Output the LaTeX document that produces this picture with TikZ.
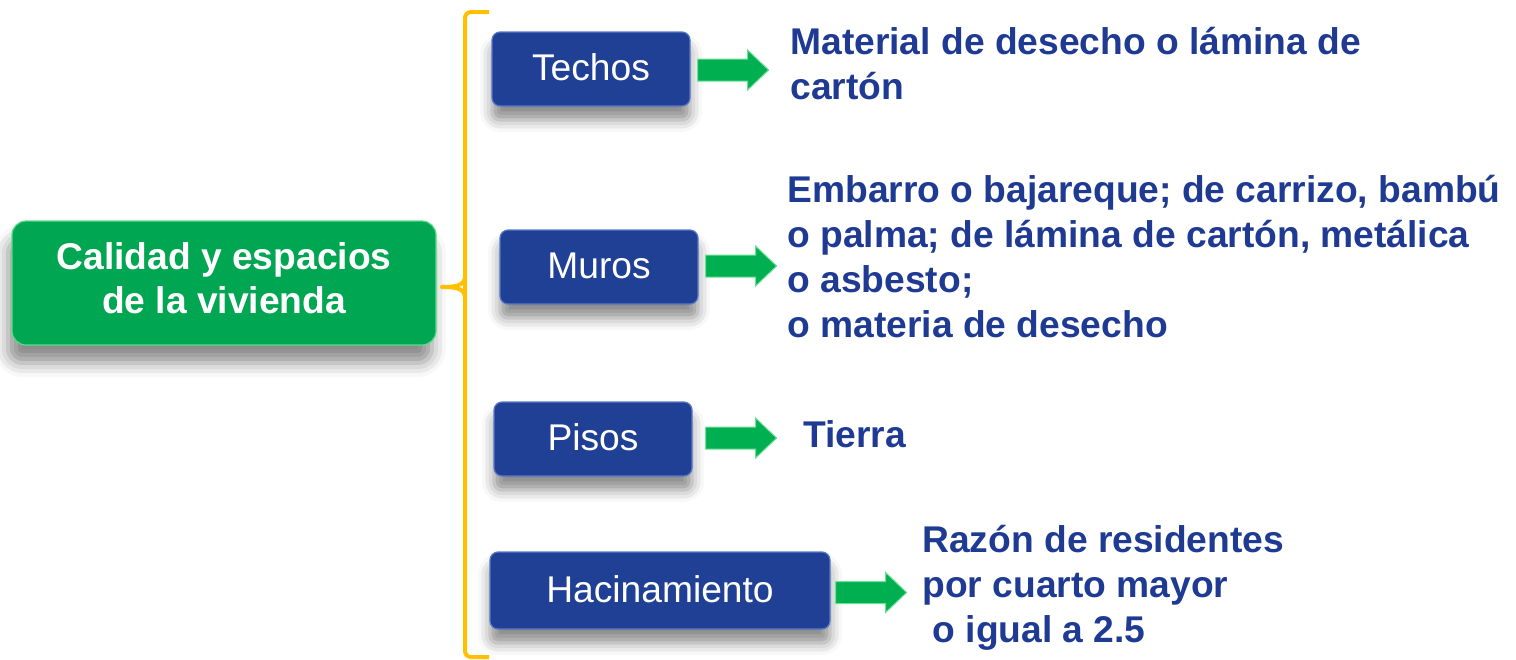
\documentclass[tikz,border=0pt]{standalone}
\usepackage{fontspec}
\setmainfont{Liberation Sans}
\usetikzlibrary{calc,shadows.blur}
\definecolor{boxblue}{RGB}{31,64,148}
\definecolor{boxblueedge}{RGB}{90,120,200}
\definecolor{txtblue}{RGB}{31,58,147}
\definecolor{mainGreen}{RGB}{0,166,81}
\definecolor{mainGreenEdge}{RGB}{90,220,140}
\definecolor{arrGreen}{RGB}{0,176,80}
\definecolor{arrGreenEdge}{RGB}{110,225,150}
\definecolor{braceOrange}{RGB}{255,192,0}
\tikzset{
  bluebox/.style={rectangle, rounded corners=4pt, fill=boxblue, draw=boxblueedge, line width=0.6pt,
    text=white, font=\fontsize{18.6}{22.5}\selectfont, inner sep=0pt, text height=13.4pt, text depth=1.8pt,
    blur shadow={shadow xshift=0pt, shadow yshift=-7pt, shadow blur radius=6pt, shadow opacity=45}},
  greenbox/.style={rectangle, rounded corners=7pt, fill=mainGreen, draw=mainGreenEdge, line width=0.6pt,
    text=white, font=\bfseries\fontsize{18.6}{21.8}\selectfont, align=center, inner sep=0pt,
    minimum width=212pt, minimum height=62pt,
    blur shadow={shadow xshift=-2pt, shadow yshift=-9pt, shadow blur radius=7pt, shadow opacity=45}},
  desc/.style={text=txtblue, font=\bfseries\fontsize{18.6}{22.5}\selectfont, align=left, inner sep=0pt, anchor=west},
  bracket/.style={draw=braceOrange, line width=2pt, rounded corners=3pt},
  greenarrow/.style={fill=arrGreen, draw=arrGreenEdge, line width=0.5pt}
}
\newcommand{\greenarr}[3]{%
  \draw[greenarrow] ($(#1.east)+(#2,#3-11)$) -- ++(50,0) -- ++(0,-9) -- ++(21,20) -- ++(-21,20) -- ++(0,-9) -- ++(-50,0) -- cycle;}
\begin{document}
\begin{tikzpicture}[x=0.5pt,y=-0.5pt]
\useasboundingbox (0,0) rectangle (1516,659);
% main node
\node[greenbox] (main) at (224,283) {Calidad y espacios\\de la vivienda\rule[-5pt]{0pt}{5pt}};
% bracket
\coordinate (btop) at (489,12);
\coordinate (bbot) at (489,657);
\coordinate (bmid) at (442,287);
\draw[bracket] (btop) -- (465,12) -- (465,657) -- (bbot);
\draw[braceOrange, line width=2pt, line cap=round] (bmid) .. controls (458,287) and (463,285) .. (465,278);
\draw[braceOrange, line width=2pt, line cap=round] (bmid) .. controls (458,287) and (463,289) .. (465,296);
% category boxes
\node[bluebox, minimum width=99pt, minimum height=37pt] (techos) at (591,69) {Techos};
\node[bluebox, minimum width=99pt, minimum height=37pt] (muros) at (599,267) {Muros};
\node[bluebox, minimum width=99pt, minimum height=37pt] (pisos) at (593,439) {Pisos};
\node[bluebox, minimum width=170pt, minimum height=38.5pt] (hacin) at (660,590.5) {Hacinamiento};
% arrows
\greenarr{techos}{7}{1}
\greenarr{muros}{7}{-1}
\greenarr{pisos}{13}{-1}
\greenarr{hacin}{5}{2}
% descriptions
\node[desc] (dtechos) at (790,64) {Material de desecho o lámina de\\cartón};
\node[desc] (dmuros) at (787,257) {Embarro o bajareque; de carrizo, bambú\\o palma; de lámina de cartón, metálica\\o asbesto;\\o materia de desecho};
\node[desc] (dpisos) at (803,434) {Tierra};
\node[desc] (dhacin) at (922,588) {Razón de residentes\\por cuarto mayor\\\ o igual a 2.5};
\end{tikzpicture}
\end{document}
